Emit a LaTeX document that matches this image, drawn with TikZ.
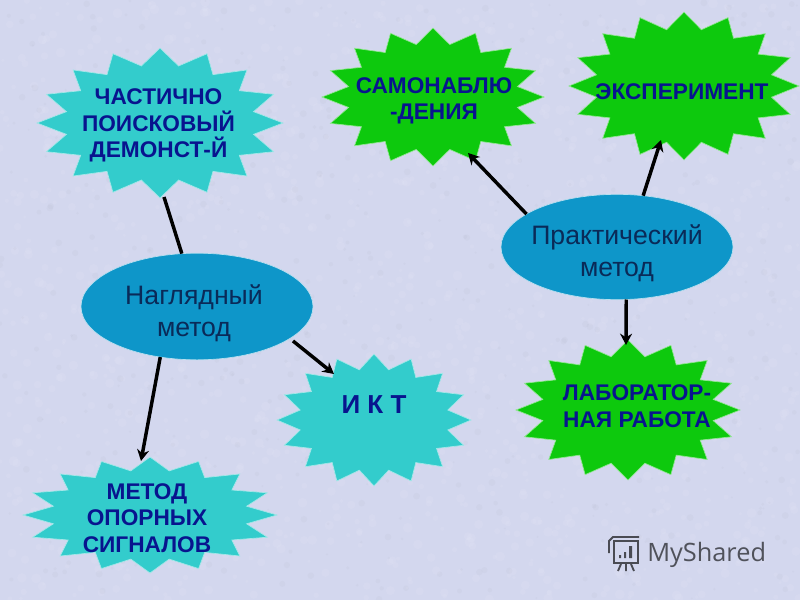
\documentclass[tikz,border=0pt]{standalone}
\usepackage{fontspec}
\setmainfont{Liberation Sans}
\newfontfamily\markfont{Open Sans}
\usetikzlibrary{arrows.meta, shapes.geometric}
\definecolor{paper}{HTML}{D3D7EE}
\definecolor{aqua}{HTML}{33CCCC}
\definecolor{leaf}{HTML}{0DC90D}
\definecolor{sea}{HTML}{0E96C9}
\definecolor{navy}{HTML}{08148E}
\definecolor{ink}{HTML}{0A2A58}
\tikzset{
        link/.style={line width=2.6pt, black},
        arrow/.style={link, -{Stealth[length=8.5pt, width=9pt]}},
        burst/.style n args={3}{star, star points=16, star point ratio=1.29, fill=#1, draw=white!55!#1, line width=0.5pt, inner sep=0pt, outer sep=0pt, minimum size=150pt, transform shape, xscale=#2, yscale=#3},
        method/.style={ellipse, fill=sea, draw=white!70!sea, line width=0.5pt, inner sep=0pt, outer sep=0pt, minimum width=174pt, minimum height=80pt},
        word/.style={navy, align=center, font=\bfseries\fontsize{17}{20}\selectfont},
        title/.style={ink, align=center, font=\fontsize{20}{23.8}\selectfont},
    }

\begin{document}
\begin{tikzpicture}[x=0.75pt, y=-0.75pt]
    \fill[paper] (0,0) rectangle (800,600);
    \useasboundingbox (0,0) rectangle (800,600);
    % mottled paper
    \pgfmathsetseed{41}
    \foreach \i in {1,...,1500} {
      \fill[white, opacity=0.07] ({rnd*800},{rnd*600}) circle ({1.5+rnd*3.5});
    }
    \foreach \i in {1,...,600} {
      \fill[black!35!paper, opacity=0.05] ({rnd*800},{rnd*600}) circle ({1+rnd*2.5});
    }

    \node[burst={aqua}{1.23}{0.75}] (part) at (160,123) {};
    \node[burst={leaf}{1.11}{0.69}] (samo) at (433,97) {};
    \node[burst={leaf}{1.15}{0.74}] (exper) at (684,86) {};
    \node[burst={aqua}{0.97}{0.66}] (ikt) at (374,420) {};
    \node[burst={leaf}{1.12}{0.70}] (lab) at (628,410) {};
    \node[burst={aqua}{1.27}{0.58}] (opor) at (150,515) {};
    \node[method] (nagl) at (197,306.5) {};
    \node[method, minimum height=79pt] (prakt) at (617,247) {};

    \node[word] (partword) at (158.5,125.5) {ЧАСТИЧНО\\ПОИСКОВЫЙ\\ДЕМОНСТ-Й};
    \node[word] (samoword) at (434,101) {САМОНАБЛЮ\\-ДЕНИЯ};
    \node[word] (experword) at (682,92) {ЭКСПЕРИМЕНТ};
    \node[word, font=\bfseries\fontsize{19.5}{23}\selectfont] (iktword) at (374,405) {И К Т};
    \node[word] (labword) at (637,406) {ЛАБОРАТОР-\\НАЯ РАБОТА};
    \node[word] (oporword) at (147,518) {МЕТОД\\ОПОРНЫХ\\СИГНАЛОВ};
    \node[title] (naglword) at (194,313) {Наглядный\\метод};
    \node[title] (praktword) at (617,253) {Практический\\метод};

    \coordinate (partend) at (164,197);
    \coordinate (oporend) at (141,461);
    \coordinate (iktend) at (334,374);
    \coordinate (samoend) at (468,153);
    \coordinate (experend) at (661,140);
    \coordinate (labend) at (626,345);

    \draw[link] (partend) -- (nagl.106);
    \draw[arrow] (nagl.234) -- (oporend);
    \draw[arrow, shorten <=3pt] (nagl.-19) -- (iktend);
    \draw[arrow] (prakt.160) -- (samoend);
    \draw[arrow] (prakt.63) -- (experend);
    \draw[arrow] (prakt.-80) -- (labend);

    % watermark
    \begin{scope}[line width=1.4pt, draw=black!65!paper]
      \draw (614,541) rectangle (638,563);
      \draw (609,553) -- (609,541) -- (613,537) -- (639,537);
      \draw (621,564) -- (618,571) (626,564) -- (626,571) (631,564) -- (634,571);
      \fill[black!65!paper] (619,555) rectangle (621,558) (624,552) rectangle (626,558) (629,546) rectangle (632,558);
    \end{scope}
    \node[text=black!62!paper, anchor=west, inner sep=0pt, font=\markfont\fontsize{19}{23}\selectfont] (mark) at (647,555) {MyShared};
\end{tikzpicture}
\end{document}
